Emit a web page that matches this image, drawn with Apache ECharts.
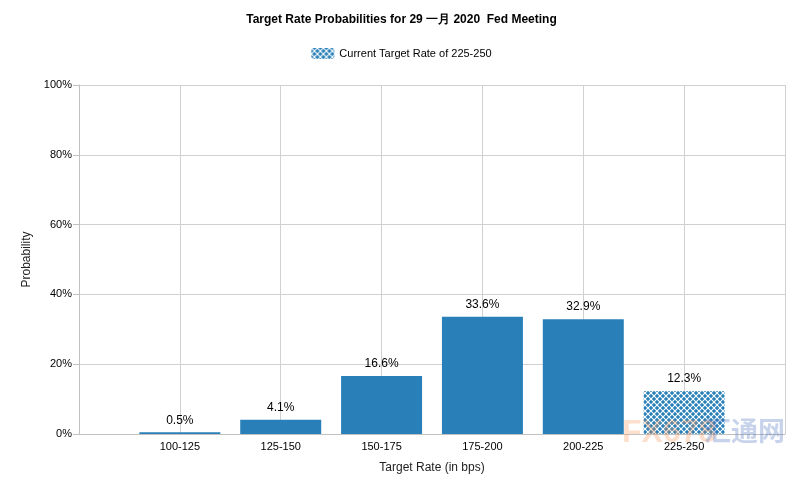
<!DOCTYPE html>
<html>
<head>
<meta charset="utf-8">
<script src="https://cdn.jsdelivr.net/npm/echarts@6/dist/echarts.min.js"></script>
<style>
  html, body { margin: 0; padding: 0; background: #fff; }
  #chart { width: 803px; height: 479px; }
</style>
</head>
<body>
<div id="chart"></div>
<script>
// categories (blank slots at both ends keep the half-empty look of the original)
const categories = ["", "100-125", "125-150", "150-175", "175-200", "200-225", "225-250", ""]
const probabilities = [null, 0.5, 4.1, 16.6, 33.6, 32.9, null, null]
const currentRate = [null, null, null, null, null, null, 12.3, null]
const yTicks = [0, 20, 40, 60, 80, 100]

const BLUE = "#2980b9"

// cross hatch pattern for the current target rate bar
function makeHatch() {
  const c = document.createElement("canvas")
  c.width = 6
  c.height = 6
  const ctx = c.getContext("2d")
  ctx.fillStyle = BLUE
  ctx.fillRect(0, 0, 6, 6)
  ctx.strokeStyle = "#ffffff"
  ctx.lineWidth = 1.1
  ctx.beginPath()
  ctx.moveTo(0, 0); ctx.lineTo(6, 6)
  ctx.moveTo(6, 0); ctx.lineTo(0, 6)
  ctx.stroke()
  return c
}
const hatch = { image: makeHatch(), repeat: "repeat" }

const chart = echarts.init(document.getElementById("chart"))

const labelOpt = {
  show: true,
  position: "top",
  color: "#000",
  fontSize: 12,
  fontFamily: "Liberation Sans",
  distance: 6,
  formatter: (p) => p.value + "%",
}

chart.setOption({
  animation: false,
  textStyle: { fontFamily: "Liberation Sans" },
  title: {
    text: "Target Rate Probabilities for 29 一月 2020  Fed Meeting",
    left: "center",
    top: 9,
    textStyle: { fontSize: 12, fontWeight: "bold", color: "#000", fontFamily: "Liberation Sans" },
  },
  legend: {
    data: [{ name: "Current Target Rate of 225-250", itemStyle: { color: hatch } }],
    top: 43,
    left: "center",
    itemWidth: 23,
    itemHeight: 11,
    itemGap: 4,
    textStyle: { fontSize: 11, color: "#000" },
  },
  grid: { left: 79, right: 18, top: 85, bottom: 43 },
  // faint site watermark over the bottom right corner
  graphic: [
    {
      type: "text",
      left: 622,
      top: 417,
      z: 100,
      silent: true,
      style: { text: "FX678", fontSize: 32, fontWeight: "bold", fill: "rgba(250,150,90,0.3)", fontFamily: "Liberation Sans" },
    },
    {
      type: "text",
      left: 704,
      top: 417,
      z: 100,
      silent: true,
      style: { text: "汇通网", fontSize: 27, fontWeight: "bold", fill: "rgba(70,110,190,0.3)", fontFamily: "Noto Sans CJK SC" },
    },
  ],
  xAxis: {
    type: "category",
    data: categories,
    boundaryGap: false,
    name: "Target Rate (in bps)",
    nameLocation: "middle",
    nameGap: 28,
    nameTextStyle: { color: "#222", fontSize: 12 },
    axisLine: { lineStyle: { color: "#c0c0c0" } },
    axisTick: { show: false },
    axisLabel: { color: "#000", fontSize: 11, interval: 0, margin: 7 },
    splitLine: { show: true, lineStyle: { color: "#d0d0d0" } },
  },
  yAxis: {
    type: "value",
    min: yTicks[0],
    max: yTicks[yTicks.length - 1],
    interval: 20,
    name: "Probability",
    nameLocation: "middle",
    nameGap: 46,
    nameTextStyle: { color: "#222", fontSize: 12 },
    axisLine: { show: true, lineStyle: { color: "#c0c0c0" } },
    axisTick: { show: true, length: 6, lineStyle: { color: "#c0c0c0" } },
    axisLabel: { color: "#000", fontSize: 11, margin: 7, formatter: "{value}%" },
    splitLine: { show: true, lineStyle: { color: "#d0d0d0" } },
  },
  series: [
    {
      name: "Probability",
      type: "bar",
      data: probabilities,
      barWidth: 81,
      barGap: "-100%",
      itemStyle: { color: BLUE },
      label: labelOpt,
    },
    {
      name: "Current Target Rate of 225-250",
      type: "bar",
      data: currentRate,
      barWidth: 81,
      itemStyle: { color: hatch },
      label: labelOpt,
    },
  ],
})
</script>
</body>
</html>
